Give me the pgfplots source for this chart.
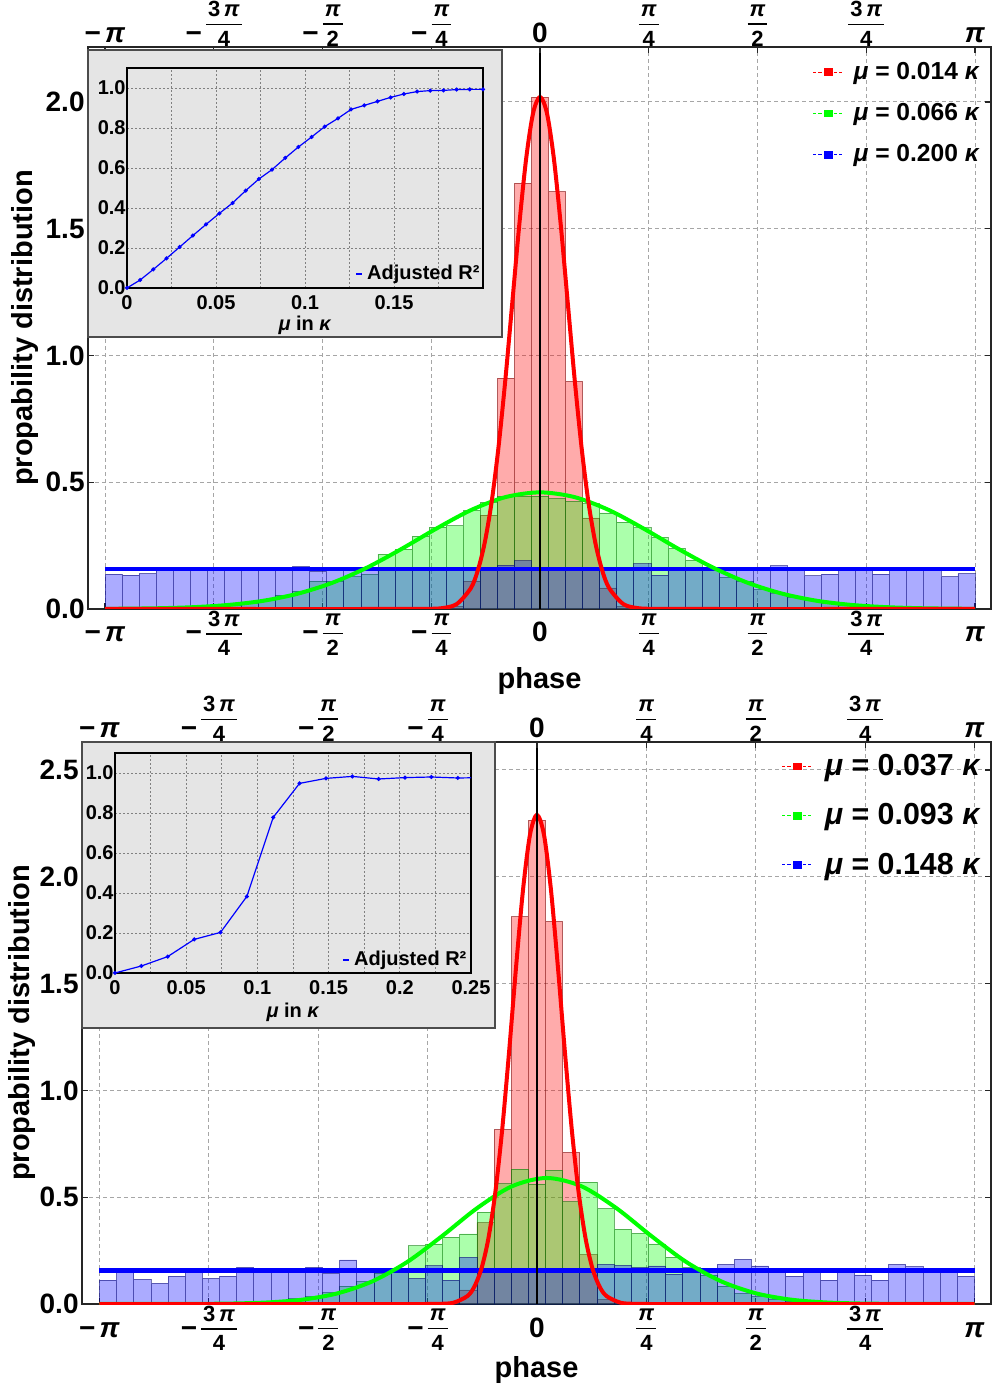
\documentclass[border=0pt]{standalone}
\usepackage{fontspec}
\setmainfont{Liberation Sans}
\usepackage{pgfplots}
\usepackage{pgfplotstable}
\pgfplotsset{compat=1.18}
\newcommand{\p}{\textit{π}}
\newcommand{\fr}[2]{{\fontsize{11}{10}\selectfont\setlength{\arrayrulewidth}{0.7pt}\setlength{\tabcolsep}{1pt}\begin{tabular}{c}#1\\[0.5pt]\hline\noalign{\vskip3pt}#2\end{tabular}}}
\newcommand{\frb}[2]{\raisebox{-1.6pt}{\fontsize{11}{10}\selectfont\setlength{\arrayrulewidth}{0.7pt}\setlength{\tabcolsep}{1pt}\begin{tabular}[b]{c}#1\\[0.5pt]\hline\noalign{\vskip3pt}#2\end{tabular}}}
\newcommand{\mn}{−\kern2pt}

\pgfplotstableread{
x r g b
-3.0800 0 0.001 0.138
-2.9568 0 0.001 0.134
-2.8336 0 0.002 0.140
-2.7104 0 0.003 0.155
-2.5872 0 0.005 0.155
-2.4640 0 0.007 0.155
-2.3408 0 0.010 0.160
-2.2176 0 0.015 0.158
-2.0944 0 0.022 0.155
-1.9712 0 0.035 0.157
-1.8480 0 0.055 0.160
-1.7248 0 0.071 0.167
-1.6016 0 0.110 0.148
-1.4784 0 0.110 0.155
-1.3552 0 0.127 0.152
-1.2320 0 0.137 0.155
-1.1088 0 0.216 0.158
-0.9856 0 0.236 0.160
-0.8624 0 0.287 0.158
-0.7392 0 0.323 0.158
-0.6160 0.010 0.328 0.160
-0.4928 0.110 0.389 0.158
-0.3696 0.370 0.421 0.165
-0.2464 0.911 0.445 0.172
-0.1232 1.680 0.445 0.190
0 2.019 0.445 0.165
0.1232 1.646 0.435 0.165
0.2464 0.898 0.425 0.160
0.3696 0.359 0.416 0.158
0.4928 0.083 0.379 0.155
0.6160 0.010 0.343 0.160
0.7392 0 0.320 0.178
0.8624 0 0.283 0.134
0.9856 0 0.239 0.155
1.1088 0 0.192 0.158
1.2320 0 0.165 0.160
1.3552 0 0.125 0.155
1.4784 0 0.110 0.158
1.6016 0 0.076 0.157
1.7248 0 0.060 0.170
1.8480 0 0.045 0.155
1.9712 0 0.032 0.131
2.0944 0 0.022 0.138
2.2176 0 0.015 0.157
2.3408 0 0.010 0.155
2.4640 0 0.007 0.138
2.5872 0 0.004 0.158
2.7104 0 0.003 0.157
2.8336 0 0.002 0.155
2.9568 0 0.001 0.128
3.0800 0 0.001 0.140
}\toptab

\pgfplotstableread{
x r g b
-3.0800 0 0 0.112
-2.9568 0 0 0.147
-2.8336 0 0 0.115
-2.7104 0 0.001 0.097
-2.5872 0 0.001 0.131
-2.4640 0 0.002 0.147
-2.3408 0 0.003 0.120
-2.2176 0 0.005 0.131
-2.0944 0 0.007 0.172
-1.9712 0 0.010 0.160
-1.8480 0 0.018 0.160
-1.7248 0 0.025 0.160
-1.6016 0 0.035 0.172
-1.4784 0 0.053 0.143
-1.3552 0 0.084 0.206
-1.2320 0 0.105 0.155
-1.1088 0 0.145 0.150
-0.9856 0 0.165 0.160
-0.8624 0 0.272 0.120
-0.7392 0 0.281 0.179
-0.6160 0 0.3125 0.112
-0.4928 0.066 0.328 0.218
-0.3696 0.380 0.430 0.160
-0.2464 0.817 0.5625 0.160
-0.1232 1.813 0.631 0.162
0 2.265 0.562 0.160
0.1232 1.791 0.627 0.160
0.2464 0.710 0.478 0.158
0.3696 0.230 0.570 0.160
0.4928 0.020 0.447 0.186
0.6160 0 0.350 0.181
0.7392 0 0.331 0.170
0.8624 0 0.281 0.178
0.9856 0 0.220 0.140
1.1088 0 0.170 0.155
1.2320 0 0.135 0.155
1.3552 0 0.084 0.186
1.4784 0 0.050 0.209
1.6016 0 0.035 0.178
1.7248 0 0.022 0.158
1.8480 0 0.014 0.131
1.9712 0 0.009 0.158
2.0944 0 0.006 0.112
2.2176 0 0.004 0.158
2.3408 0 0.003 0.136
2.4640 0 0.002 0.112
2.5872 0 0.001 0.186
2.7104 0 0.001 0.175
2.8336 0 0 0.165
2.9568 0 0 0.165
3.0800 0 0 0.131
}\bottab

\pgfplotsset{
  hist/.style={ybar, bar shift=0pt, bar width=0.1232, fill=#1, fill opacity=0.33,
    draw=#1!45!black, draw opacity=0.55, line width=0.4pt, forget plot},
  fit/.style={#1, line width=2pt, forget plot, no markers},
  legimg/.style={legend image code/.code={\draw[##1, dash pattern=on 1.6pt off 1pt, line width=0.5pt] (0pt,0pt) -- (15pt,0pt); \fill[##1] (5.5pt,-1.7pt) rectangle (9.5pt,1.7pt);}},
  pitick/.style={xtick={-3.14159,-2.35619,-1.5708,-0.785398,0,0.785398,1.5708,2.35619,3.14159}},
  mainax/.style={scale only axis, ymin=0, pitick,
    xticklabels={\mn\p,\mn\fr{3\,\p}{4},\mn\fr{\p}{2},\mn\fr{\p}{4},0,\fr{\p}{4},\fr{\p}{2},\fr{3\,\p}{4},\p},
    grid=major,
    major grid style={gray!70, line width=0.5pt, dash pattern=on 2pt off 1.5pt},
    axis line style={black!85, line width=0.6pt},
    tick style={black!85, line width=0.6pt},
    tick align=inside, major tick length=3pt,
    every tick label/.append style={font=\fontsize{14}{14}\selectfont\bfseries},
    xticklabel style={anchor=base, inner sep=0pt, yshift=-16.5pt},
    yticklabel style={inner xsep=1.5pt, /pgf/number format/.cd, fixed, fixed zerofill, precision=1, assume math mode=true},
    label style={font=\fontsize{14.5}{15}\selectfont\bfseries},
    legend cell align=left, legimg},
  upax/.style={scale only axis, ymin=0, pitick,
    xticklabels={\mn\p,\mn\frb{3\,\p}{4},\mn\frb{\p}{2},\mn\frb{\p}{4},0,\frb{\p}{4},\frb{\p}{2},\frb{3\,\p}{4},\p},
    axis x line*=top, hide y axis,
    axis line style={black!85, line width=0.6pt},
    tick style={black!85, line width=0.6pt},
    tick align=inside, major tick length=3pt,
    every tick label/.append style={font=\fontsize{14}{14}\selectfont\bfseries},
    xticklabel style={anchor=base, inner sep=0pt, yshift=2pt}},
  inax/.style={scale only axis, width=178pt, height=110pt, ymin=0, ymax=1.1,
    ytick={0,0.2,0.4,0.6,0.8,1.0}, grid=both,
    major grid style={gray, line width=0.4pt, dash pattern=on 1pt off 1pt},
    minor grid style={gray, line width=0.4pt, dash pattern=on 1pt off 1pt},
    axis line style={black, line width=0.6pt}, major tick length=0pt, minor tick length=0pt,
    scaled x ticks=false,
    every tick label/.append style={font=\fontsize{10}{10}\selectfont\bfseries},
    xticklabel style={/pgf/number format/.cd, fixed, precision=2, assume math mode=true},
    yticklabel style={inner xsep=0.5pt, /pgf/number format/.cd, fixed, fixed zerofill, precision=1, assume math mode=true},
    label style={font=\fontsize{10}{10}\selectfont\bfseries},
    xlabel={\textit{μ} in \textit{κ}},
    legend style={draw=none, fill=none, anchor=south east, inner sep=1pt,
      font=\fontsize{10}{10}\selectfont\bfseries},
    legend image code/.code={\draw[blue, line width=1.2pt] (0pt,0pt) -- (3pt,0pt);}},
}

\begin{document}
\bfseries
\begin{tikzpicture}
\path[use as bounding box] (0,0) rectangle (497.5pt,693.5pt);

% ---------------- top panel ----------------
\begin{axis}[mainax, at={(44pt,389pt)}, anchor=south west,
  width=451.5pt, height=281pt,
  xmin=-3.2645, xmax=3.257, ymax=2.217,
  ytick={0,0.5,1,1.5,2},
  xlabel={phase}, ylabel={propability distribution},
  xlabel style={at={(axis description cs:0.5,-0.128)}, anchor=center},
  ylabel style={at={(axis description cs:-0.0698,0.5)}, anchor=center, rotate=0},
  legend style={draw=none, fill=none, at={(axis description cs:0.999,0.988)}, anchor=north east,
    font=\fontsize{12.3}{13}\selectfont\bfseries, row sep=6.5pt,
    /tikz/every odd column/.style={column sep=3pt}}]
\addlegendimage{red}\addlegendentry{\textit{μ} = 0.014 \textit{κ}}
\addlegendimage{green}\addlegendentry{\textit{μ} = 0.066 \textit{κ}}
\addlegendimage{blue}\addlegendentry{\textit{μ} = 0.200 \textit{κ}}
\addplot[hist=red] table[x=x,y=r]{\toptab};
\addplot[hist=green] table[x=x,y=g]{\toptab};
\addplot[hist=blue] table[x=x,y=b]{\toptab};
\addplot[fit=blue, line width=2.4pt] coordinates {(-3.14159,0.158) (3.14159,0.158)};
\addplot[fit=green, smooth] coordinates {(-3.14159,0.00066) (-3.0,0.00117) (-2.75,0.00304) (-2.5,0.00727) (-2.25,0.0160) (-2.0,0.0323) (-1.75,0.0603) (-1.5,0.1034) (-1.25,0.1631) (-1.0,0.2369) (-0.75,0.3167) (-0.5,0.3897) (-0.25,0.4413) (0,0.46) (0.25,0.4413) (0.5,0.3897) (0.75,0.3167) (1.0,0.2369) (1.25,0.1631) (1.5,0.1034) (1.75,0.0603) (2.0,0.0323) (2.25,0.0160) (2.5,0.00727) (2.75,0.00304) (3.0,0.00117) (3.14159,0.00066)};
\addplot[fit=red, smooth] coordinates {(-3.14159,0) (-0.9,0) (-0.8,0.00055) (-0.7,0.00378) (-0.6,0.0200) (-0.5,0.0819) (-0.45,0.1507) (-0.4,0.2598) (-0.35,0.4202) (-0.3,0.6373) (-0.25,0.9066) (-0.2,1.210) (-0.15,1.514) (-0.1,1.777) (-0.05,1.956) (0,2.02) (0.05,1.956) (0.1,1.777) (0.15,1.514) (0.2,1.210) (0.25,0.9066) (0.3,0.6373) (0.35,0.4202) (0.4,0.2598) (0.45,0.1507) (0.5,0.0819) (0.6,0.0200) (0.7,0.00378) (0.8,0.00055) (0.9,0) (3.14159,0)};
\addplot[black, line width=0.7pt, forget plot] coordinates {(0,0) (0,3)};
\end{axis}
\begin{axis}[upax, at={(44pt,389pt)}, anchor=south west,
  width=451.5pt, height=281pt, xmin=-3.2645, xmax=3.257, ymax=2.217]
\addplot[draw=none] coordinates {(0,0)};
\end{axis}

% top inset
\filldraw[fill=gray!20, draw=black!70, line width=0.8pt] (44pt,525pt) rectangle (251pt,668.5pt);
\begin{axis}[inax, at={(63.5pt,549.5pt)}, anchor=south west,
  xmin=0, xmax=0.2, xtick={0,0.05,0.1,0.15}, minor xtick={0.025,0.075,0.125,0.175},
  xlabel style={at={(axis description cs:0.5,-0.168)}, anchor=center},
  legend style={at={(axis description cs:1.008,-0.005)}}]
\addplot[blue, line width=0.6pt, mark=*, mark size=0.7pt] coordinates {(0,0) (0.0074,0.04) (0.0148,0.093) (0.0222,0.148) (0.0296,0.205) (0.0370,0.262) (0.0444,0.318) (0.0519,0.373) (0.0593,0.425) (0.0667,0.487) (0.0741,0.545) (0.0815,0.592) (0.0889,0.65) (0.0963,0.705) (0.1037,0.755) (0.1111,0.807) (0.1185,0.848) (0.1259,0.893) (0.1333,0.913) (0.1407,0.933) (0.1481,0.953) (0.1556,0.97) (0.1630,0.982) (0.1704,0.987) (0.1778,0.988) (0.1852,0.992) (0.1926,0.993) (0.2000,0.993)};
\addlegendentry{Adjusted R²}
\end{axis}

% ---------------- bottom panel ----------------
\begin{axis}[mainax, at={(41pt,41.5pt)}, anchor=south west,
  width=454.5pt, height=281pt,
  xmin=-3.267, xmax=3.260, ymax=2.631,
  ytick={0,0.5,1,1.5,2,2.5},
  xlabel={phase}, ylabel={propability distribution},
  xlabel style={at={(axis description cs:0.5,-0.1174)}, anchor=center},
  ylabel style={at={(axis description cs:-0.066,0.5)}, anchor=center, rotate=0},
  legend style={draw=none, fill=none, at={(axis description cs:1.0,0.993)}, anchor=north east,
    font=\fontsize{15.2}{16}\selectfont\bfseries, row sep=8.5pt,
    /tikz/every odd column/.style={column sep=4pt}}]
\addlegendimage{red}\addlegendentry{\textit{μ} = 0.037 \textit{κ}}
\addlegendimage{green}\addlegendentry{\textit{μ} = 0.093 \textit{κ}}
\addlegendimage{blue}\addlegendentry{\textit{μ} = 0.148 \textit{κ}}
\addplot[hist=red] table[x=x,y=r]{\bottab};
\addplot[hist=green] table[x=x,y=g]{\bottab};
\addplot[hist=blue] table[x=x,y=b]{\bottab};
\addplot[fit=blue, line width=2.4pt] coordinates {(-3.14159,0.156) (3.14159,0.156)};
\addplot[fit=green, smooth] coordinates {(-3.14159,0.00003) (-2.68,0.00015) (-2.43,0.00063) (-2.18,0.00232) (-1.93,0.00742) (-1.68,0.0207) (-1.43,0.0503) (-1.18,0.1068) (-0.93,0.1975) (-0.68,0.3188) (-0.43,0.4488) (-0.18,0.551) (0.07,0.59) (0.32,0.551) (0.57,0.4488) (0.82,0.3188) (1.07,0.1975) (1.32,0.1068) (1.57,0.0503) (1.82,0.0207) (2.07,0.00742) (2.32,0.00232) (2.57,0.00063) (2.82,0.00015) (3.14159,0.00003)};
\addplot[fit=red, smooth] coordinates {(-3.14159,0) (-0.8,0) (-0.7,0.0007) (-0.6,0.0060) (-0.5,0.0369) (-0.45,0.0808) (-0.4,0.163) (-0.35,0.3028) (-0.3,0.518) (-0.25,0.8157) (-0.2,1.183) (-0.15,1.579) (-0.1,1.941) (-0.05,2.1975) (0,2.29) (0.05,2.1975) (0.1,1.941) (0.15,1.579) (0.2,1.183) (0.25,0.8157) (0.3,0.518) (0.35,0.3028) (0.4,0.163) (0.45,0.0808) (0.5,0.0369) (0.6,0.0060) (0.7,0.0007) (0.8,0) (3.14159,0)};
\addplot[black, line width=0.7pt, forget plot] coordinates {(0,0) (0,3)};
\end{axis}
\begin{axis}[upax, at={(41pt,41.5pt)}, anchor=south west,
  width=454.5pt, height=281pt, xmin=-3.267, xmax=3.260, ymax=2.631]
\addplot[draw=none] coordinates {(0,0)};
\end{axis}

% bottom inset
\filldraw[fill=gray!20, draw=black!70, line width=0.8pt] (41pt,179.5pt) rectangle (247.5pt,322.5pt);
\begin{axis}[inax, at={(57.5pt,207pt)}, anchor=south west,
  xmin=0, xmax=0.25, xtick={0,0.05,0.1,0.15,0.2,0.25}, minor xtick={0.025,0.075,0.125,0.175,0.225},
  xlabel style={at={(axis description cs:0.5,-0.177)}, anchor=center},
  legend style={at={(axis description cs:1.005,-0.01)}}]
\addplot[blue, line width=0.6pt, mark=*, mark size=0.7pt] coordinates {(0,0) (0.0185,0.035) (0.0370,0.082) (0.0556,0.168) (0.0741,0.203) (0.0926,0.383) (0.1111,0.778) (0.1296,0.948) (0.1481,0.973) (0.1667,0.983) (0.1852,0.970) (0.2037,0.977) (0.2222,0.980) (0.2407,0.975) (0.2593,0.977)};
\addlegendentry{Adjusted R²}
\end{axis}
\end{tikzpicture}
\end{document}
